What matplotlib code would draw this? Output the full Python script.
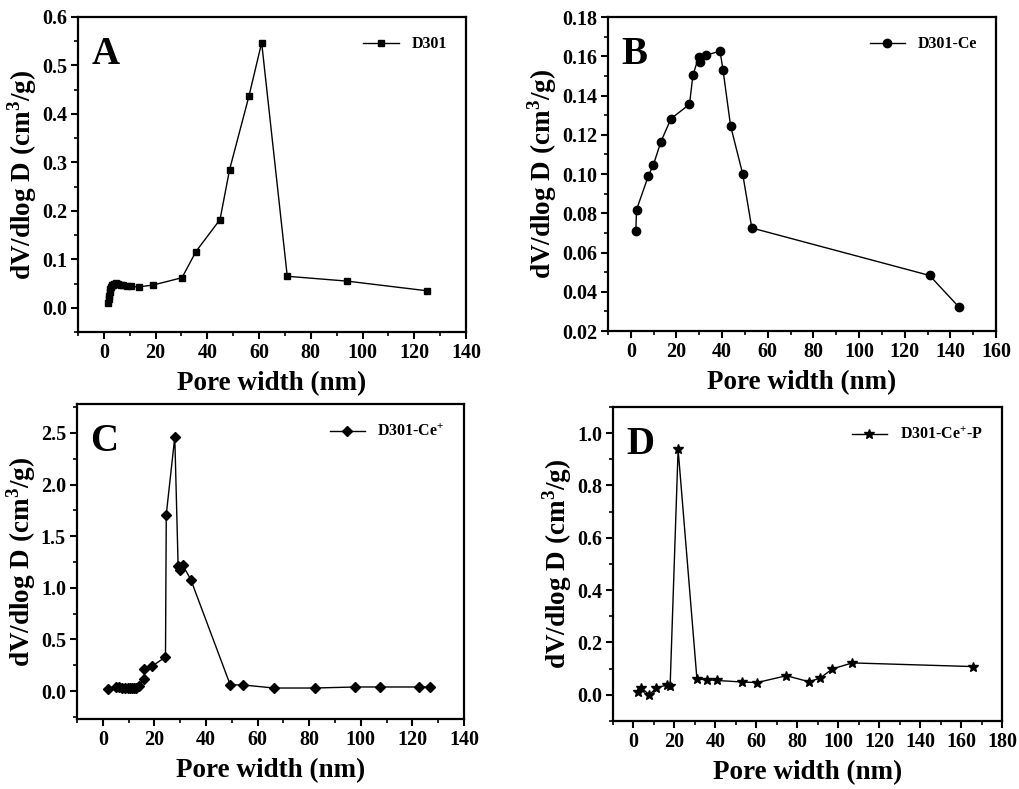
import matplotlib
matplotlib.use("Agg")
import matplotlib.pyplot as plt
from matplotlib.ticker import MultipleLocator, AutoMinorLocator

plt.rcParams['font.family'] = ['Liberation Serif', 'DejaVu Serif']
plt.rcParams['font.weight'] = 'bold'
plt.rcParams['mathtext.fontset'] = 'custom'
plt.rcParams['mathtext.rm'] = 'Liberation Serif:bold'
plt.rcParams['mathtext.bf'] = 'Liberation Serif:bold'

# A: D301
a_x = [1.7, 1.9, 2.1, 2.3, 2.5, 2.8, 3.1, 3.5, 4.0, 4.5, 5.0, 5.5, 6.5, 7.5, 9.0, 10.5,
       13.5, 19.1, 30.2, 35.6, 44.9, 48.6, 56.1, 61.0, 70.9, 94.0, 125.0]
a_y = [0.010, 0.018, 0.025, 0.032, 0.038, 0.042, 0.046, 0.048, 0.050, 0.051, 0.050, 0.049,
       0.048, 0.047, 0.045, 0.044, 0.043, 0.047, 0.062, 0.116, 0.182, 0.285, 0.437, 0.547,
       0.065, 0.055, 0.035]

# B: D301-Ce
b_x = [2.2, 2.5, 7.7, 9.9, 13.2, 17.6, 25.7, 27.2, 29.7, 30.4, 33.1, 39.1, 40.4, 43.7,
       49.0, 53.0, 130.9, 143.6]
b_y = [0.0712, 0.0818, 0.0991, 0.1047, 0.1165, 0.1282, 0.1355, 0.1502, 0.1597, 0.1570,
       0.1606, 0.1626, 0.1529, 0.1246, 0.1001, 0.0725, 0.0483, 0.0324]

# C: D301-Ce+
c_x = [1.9, 5.1, 6.4, 7.5, 8.6, 9.6, 10.5, 11.4, 12.2, 13.0, 13.9, 16.1, 16.1, 19.0, 24.3,
       24.6, 27.9, 29.2, 30.0, 31.0, 34.1, 49.4, 54.2, 66.3, 82.1, 97.9, 107.5, 122.6, 126.8]
c_y = [0.02, 0.04, 0.04, 0.035, 0.03, 0.03, 0.03, 0.03, 0.03, 0.03, 0.05, 0.12, 0.21, 0.24,
       0.33, 1.71, 2.46, 1.21, 1.17, 1.22, 1.08, 0.06, 0.06, 0.03, 0.03, 0.04, 0.04, 0.04, 0.04]

# D: D301-Ce+-P
d_x = [2.1, 3.6, 7.8, 11.1, 16.3, 17.9, 21.8, 31.0, 35.7, 40.7, 53.1, 60.4, 74.7, 85.8,
       91.1, 97.2, 106.8, 165.8]
d_y = [0.012, 0.028, 0.0, 0.026, 0.038, 0.033, 0.938, 0.060, 0.058, 0.055, 0.049, 0.047,
       0.073, 0.050, 0.064, 0.099, 0.122, 0.108]

W, H = 1019, 789
fig = plt.figure(figsize=(W / 100, H / 100), dpi=100)


def make_ax(l, r, t, b):
    return fig.add_axes([l / W, 1 - b / H, (r - l) / W, (b - t) / H])


panels = [
    # pixel box, data, marker, size, label, letter, xlim, xstep, ylim, ystep, yfmt
    ((78, 466, 17, 332), a_x, a_y, 's', 5, 'D301', 'A', (-10, 140), 20, (-0.05, 0.6), 0.1, '%.1f'),
    ((608, 996, 17, 331), b_x, b_y, 'o', 6, 'D301-Ce', 'B', (-10, 160), 20, (0.02, 0.18), 0.02, '%.2f'),
    ((77, 464, 404, 719), c_x, c_y, 'D', 5.5, 'D301-Ce$^{+}$', 'C', (-10, 140), 20, (-0.27, 2.78), 0.5, '%.1f'),
    ((613, 1002, 407, 721), d_x, d_y, '*', 7.5, 'D301-Ce$^{+}$-P', 'D', (-10, 180), 20, (-0.1, 1.1), 0.2, '%.1f'),
]

for box, xs, ys, mk, ms, lab, letter, xl, xst, yl, yst, fmt in panels:
    ax = make_ax(*box)
    ax.plot(xs, ys, color='black', lw=1.0, marker=mk, ms=ms, mfc='black', mec='black', label=lab)
    ax.set_xlim(*xl)
    ax.set_ylim(*yl)
    ax.xaxis.set_major_locator(MultipleLocator(xst))
    ax.xaxis.set_minor_locator(AutoMinorLocator(2))
    ax.yaxis.set_major_locator(MultipleLocator(yst))
    ax.yaxis.set_minor_locator(AutoMinorLocator(2))
    ax.yaxis.set_major_formatter(plt.FormatStrFormatter(fmt))
    for s in ax.spines.values():
        s.set_linewidth(1.6)
    ax.tick_params(which='major', direction='out', length=5, width=1.5, labelsize=14.5,
                   top=False, right=False, pad=3)
    ax.tick_params(which='minor', direction='out', length=3, width=1.2, top=False, right=False)
    for t in ax.get_xticklabels() + ax.get_yticklabels():
        t.set_fontweight('bold')
    ax.set_xlabel('Pore width (nm)', fontsize=19.5, fontweight='bold', labelpad=6)
    ax.set_ylabel('dV/dlog D (cm$^{3}$/g)', fontsize=19.5, fontweight='bold', labelpad=2)
    ax.text(0.035, 0.94, letter, transform=ax.transAxes, fontsize=28, fontweight='bold',
            va='top', ha='left')
    ax.legend(loc='upper right', frameon=False, handlelength=2.2, borderaxespad=0.8,
              prop={'weight': 'bold', 'size': 11.5})

fig.savefig('out.png', dpi=100)
